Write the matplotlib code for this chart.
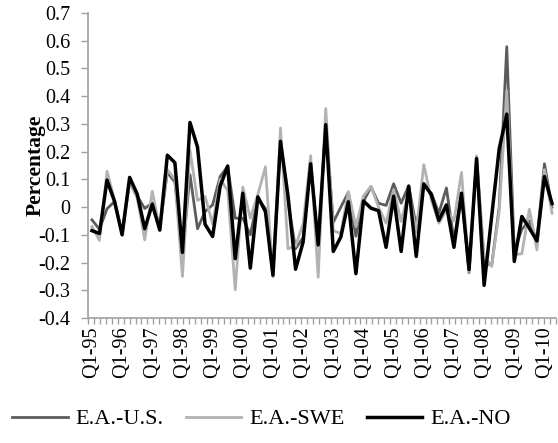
import numpy as np
import matplotlib
matplotlib.use("Agg")
import matplotlib.pyplot as plt

# quarterly series, Q1-95 .. Q2-10
us = [-0.046, -0.08, -0.006, 0.02, -0.095, 0.1, 0.04, -0.005, 0.015, -0.07,
      0.125, 0.09, -0.17, 0.117, -0.078, -0.016, 0.008, 0.11, 0.147, -0.04,
      -0.04, -0.1, 0.03, -0.005, -0.25, 0.24, 0.02, -0.15, -0.11, 0.16,
      -0.14, 0.3, -0.055, 0.0, 0.053, -0.105, 0.02, 0.073, 0.014, 0.006,
      0.084, 0.014, 0.077, -0.07, 0.08, 0.05, -0.022, 0.069, -0.12, 0.05,
      -0.236, 0.17, -0.2, -0.21, 0.0, 0.578, -0.16, -0.08, -0.05, -0.12,
      0.156, 0.0]
swe = [-0.07, -0.12, 0.129, 0.026, -0.1, 0.087, 0.033, -0.118, 0.057, -0.082,
       0.135, 0.1, -0.25, 0.205, 0.024, 0.038, -0.06, 0.1, 0.06, -0.298,
       0.072, -0.04, 0.045, 0.145, -0.25, 0.285, -0.15, -0.14, -0.06, 0.185,
       -0.253, 0.355, -0.085, -0.095, 0.056, -0.07, 0.04, 0.075, 0.0, -0.058,
       0.063, -0.052, 0.057, -0.09, 0.153, 0.026, -0.058, -0.01, -0.05, 0.125,
       -0.232, 0.185, -0.178, -0.214, -0.015, 0.42, -0.172, -0.168, -0.008, -0.154,
       0.135, -0.022]
no = [-0.085, -0.095, 0.097, 0.02, -0.1, 0.107, 0.047, -0.078, 0.01, -0.083,
      0.187, 0.16, -0.163, 0.305, 0.216, -0.062, -0.106, 0.075, 0.148, -0.186,
      0.05, -0.22, 0.037, -0.016, -0.245, 0.237, 0.04, -0.224, -0.126, 0.156,
      -0.136, 0.297, -0.16, -0.108, 0.019, -0.24, 0.022, -0.004, -0.013, -0.145,
      0.039, -0.16, 0.075, -0.178, 0.084, 0.045, -0.048, 0.008, -0.145, 0.05,
      -0.225, 0.175, -0.282, -0.034, 0.21, 0.335, -0.196, -0.034, -0.076, -0.122,
      0.11, 0.013]
years = ["95", "96", "97", "98", "99", "00", "01", "02", "03", "04",
         "05", "06", "07", "08", "09", "10"]
series_names = ["E.A.-U.S.", "E.A.-SWE", "E.A.-NO"]

plt.rcParams["font.family"] = ["Liberation Serif", "DejaVu Serif"]

fig = plt.figure(figsize=(5.58, 4.43), dpi=100)
ax = fig.add_axes([0.158, 0.282, 0.838, 0.689])

x = np.arange(len(no))
ax.plot(x, us, color="#5c5c5c", lw=2.0, label=series_names[0])
ax.plot(x, swe, color="#b2b2b2", lw=2.0, label=series_names[1])
ax.plot(x, no, color="black", lw=2.5, label=series_names[2])

ax.set_xlim(-0.5, len(no) - 0.5)
ax.set_ylim(-0.4, 0.7)
yt = np.round(np.arange(-0.4, 0.71, 0.1), 1)
ax.set_yticks(yt)
ax.set_yticklabels(["0" if v == 0 else f"{v:.1f}" for v in yt], fontsize=14.5)

ax.set_xticks(np.arange(0, len(no), 4))
ax.set_xticklabels(["Q1-" + y for y in years], rotation=90, fontsize=14.5)
ax.set_xticks(np.linspace(-0.5, len(no) - 0.5, 80), minor=True)
ax.tick_params(axis="x", which="major", length=0, pad=6)
ax.tick_params(axis="x", which="minor", length=4, color="#a0a0a0", width=1)
ax.tick_params(axis="y", length=5, color="#a0a0a0", width=1, pad=8)

for s in ["top", "right"]:
    ax.spines[s].set_visible(False)
for s in ["left", "bottom"]:
    ax.spines[s].set_color("#a0a0a0")
    ax.spines[s].set_linewidth(1.2)

ax.set_ylabel("Percentage", fontsize=15.5, fontweight="bold")
ax.yaxis.set_label_coords(-0.09, 0.5)

fig.legend(loc="center", bbox_to_anchor=(0.468, 0.054), ncol=3, frameon=False,
           fontsize=16, handlelength=2.5, handletextpad=0.35, columnspacing=1.0)

fig.savefig("out.png", dpi=100)
